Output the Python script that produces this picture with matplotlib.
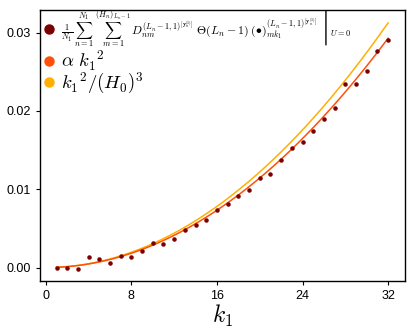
import numpy as np
import matplotlib
matplotlib.use("Agg")
import matplotlib.pyplot as plt
from matplotlib.lines import Line2D

plt.rcParams['mathtext.fontset'] = 'cm'
plt.rcParams['font.family'] = ['Liberation Sans', 'DejaVu Sans']

# measured points
k1 = list(range(1, 33))
measured = [0.0, 0.0, -0.0002, 0.00133, 0.00115, 0.0006, 0.00145, 0.00133,
            0.00213, 0.0031, 0.00307, 0.00366, 0.00485, 0.00545, 0.00613, 0.00737,
            0.0081, 0.0092, 0.00996, 0.0114, 0.0120, 0.0138, 0.01524, 0.01605,
            0.01745, 0.0190, 0.0204, 0.0234, 0.0234, 0.0251, 0.0276, 0.0291]

# fit constants
alpha = 2.86e-5
H0 = 32

c_dot = '#7d0000'
c_fit = '#ff4f0a'
c_ref = '#ffaf00'

k = np.array(k1, dtype=float)
kk = np.linspace(1, 32, 200)

fig = plt.figure(figsize=(4.16, 3.32), dpi=100)
ax = fig.add_axes([0.096, 0.154, 0.878, 0.816])

ax.plot(kk, kk**2 / H0**3, color=c_ref, lw=1.1, zorder=1)
ax.plot(kk, alpha * kk**2, color=c_fit, lw=1.1, zorder=2)
ax.scatter(k, measured, s=5, color=c_dot, zorder=3)

ax.set_xlim(-0.55, 33.6)
ax.set_ylim(-0.0017, 0.0329)
ax.set_xticks([0, 8, 16, 24, 32])
ax.set_yticks([0, 0.01, 0.02, 0.03])
ax.set_yticklabels(['0.00', '0.01', '0.02', '0.03'])
ax.tick_params(labelsize=9, length=3, width=0.8)
for s in ax.spines.values():
    s.set_linewidth(1.0)
ax.set_xlabel('$k_1$', fontsize=17, labelpad=1)

lab1 = (r'$\left.\frac{1}{N_1}\,\sum_{n=1}^{N_1}\;\sum_{m=1}^{(H_n)_{L_n-1}}\,'
        r'D_{nm}^{(L_n-1,1)^{[\mathbf{y}_n^{(1)}]}}\;\Theta(L_n-1)\;(\bullet)'
        r'_{mk_1}^{(L_n-1,1)^{[\mathbf{y}_n^{(1)}]}}\;\right|_{U=0}$')
labels = [lab1, r'$\alpha\ {k_1}^2$', r'${k_1}^2/(H_0)^3$']
handles = [Line2D([], [], ls='none', marker='o', ms=6.5, color=c)
           for c in (c_dot, c_fit, c_ref)]
leg = ax.legend(handles, labels, loc='upper left', bbox_to_anchor=(0.0, 1.025),
                frameon=False, handlelength=0.4, handletextpad=0.4,
                borderaxespad=0.1, borderpad=0.2, labelspacing=-0.1,
                fontsize=13.5)
leg.get_texts()[0].set_fontsize(8.5)

fig.savefig('out.png', dpi=100)
